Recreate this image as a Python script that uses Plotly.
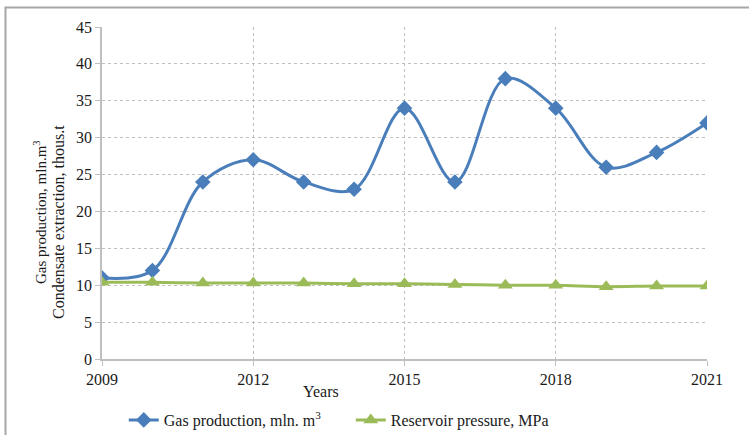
import plotly.graph_objects as go

years = [2009, 2010, 2011, 2012, 2013, 2014, 2015, 2016, 2017, 2018, 2019, 2020, 2021]
gas_production = [11, 12, 24, 27, 24, 23, 34, 24, 38, 34, 26, 28, 32]
reservoir_pressure = [10.4, 10.4, 10.3, 10.3, 10.3, 10.2, 10.2, 10.1, 10.0, 10.0, 9.8, 9.9, 9.9]
x_ticks = [2009, 2012, 2015, 2018, 2021]
y_ticks = [0, 5, 10, 15, 20, 25, 30, 35, 40, 45]
y_title_lines = ["Gas production, mln.m<sup>3</sup>", "Condensate extraction, thous.t"]

FONT = "Liberation Serif"
BLUE = "#4A7EBB"
GREEN = "#9BBB59"
TXT = "#1A1A1A"

L, R, T, B = 102, 42, 27, 76
W, H = 749, 435
PW, PH = W - L - R, H - T - B


def px(x):
    return (x - L) / PW


def py(y):
    return (H - B - y) / PH


fig = go.Figure()
fig.add_trace(go.Scatter(
    x=years, y=gas_production, name="Gas production, mln. m<sup>3</sup>",
    mode="lines+markers", line=dict(color=BLUE, width=3, shape="spline", smoothing=1),
    marker=dict(symbol="diamond", size=12, color=BLUE),
))
fig.add_trace(go.Scatter(
    x=years, y=reservoir_pressure, name="Reservoir pressure, MPa",
    mode="lines+markers", line=dict(color=GREEN, width=3, shape="spline", smoothing=1),
    marker=dict(symbol="triangle-up", size=13, color=GREEN),
))

fig.update_layout(
    width=W, height=H,
    margin=dict(l=L, r=R, t=T, b=B),
    paper_bgcolor="white", plot_bgcolor="white",
    font=dict(family=FONT, size=15, color=TXT),
    showlegend=True,
    legend=dict(orientation="h", xref="paper", x=0.036, xanchor="left",
                yref="container", y=1 - 420 / 435, yanchor="middle",
                font=dict(family=FONT, size=16, color=TXT),
                entrywidth=182, entrywidthmode="pixels",
                itemwidth=30, tracegroupgap=0, bgcolor="rgba(0,0,0,0)"),
    xaxis=dict(range=[2009, 2021], tickvals=x_ticks, ticktext=[str(v) for v in x_ticks],
               showgrid=True, gridcolor="#BFBFBF", griddash="dot", gridwidth=1,
               showline=True, linecolor="#BFBFBF", linewidth=1.5,
               ticks="outside", ticklen=5, tickcolor="#BFBFBF",
               tickfont=dict(family=FONT, size=16, color=TXT), zeroline=False),
    yaxis=dict(range=[0, 45], tickvals=y_ticks,
               showgrid=True, gridcolor="#BFBFBF", griddash="dot", gridwidth=1,
               showline=True, linecolor="#BFBFBF", linewidth=1.5,
               ticks="outside", ticklen=5, tickcolor="#BFBFBF",
               tickfont=dict(family=FONT, size=16, color=TXT), zeroline=False),
)

fig.add_annotation(text=y_title_lines[0], xref="paper", yref="paper", x=px(40), y=py(212),
                   textangle=-90, showarrow=False, xanchor="center", yanchor="middle",
                   font=dict(family=FONT, size=15, color=TXT))
fig.add_annotation(text=y_title_lines[1], xref="paper", yref="paper", x=px(58), y=py(222),
                   textangle=-90, showarrow=False, xanchor="center", yanchor="middle",
                   font=dict(family=FONT, size=16, color=TXT))

fig.add_annotation(text="Years", xref="paper", yref="paper", x=px(321), y=py(392),
                   showarrow=False, xanchor="center", yanchor="middle",
                   font=dict(family=FONT, size=16, color=TXT))

fig.add_shape(type="rect", xref="paper", yref="paper",
              x0=px(5.5), y0=-0.5, x1=1.5, y1=py(7.5),
              line=dict(color="#A6A6A6", width=2), fillcolor="rgba(0,0,0,0)", layer="below")

fig.write_html("out.html", config={"displayModeBar": False},
               post_script="document.body.style.margin='0';")
